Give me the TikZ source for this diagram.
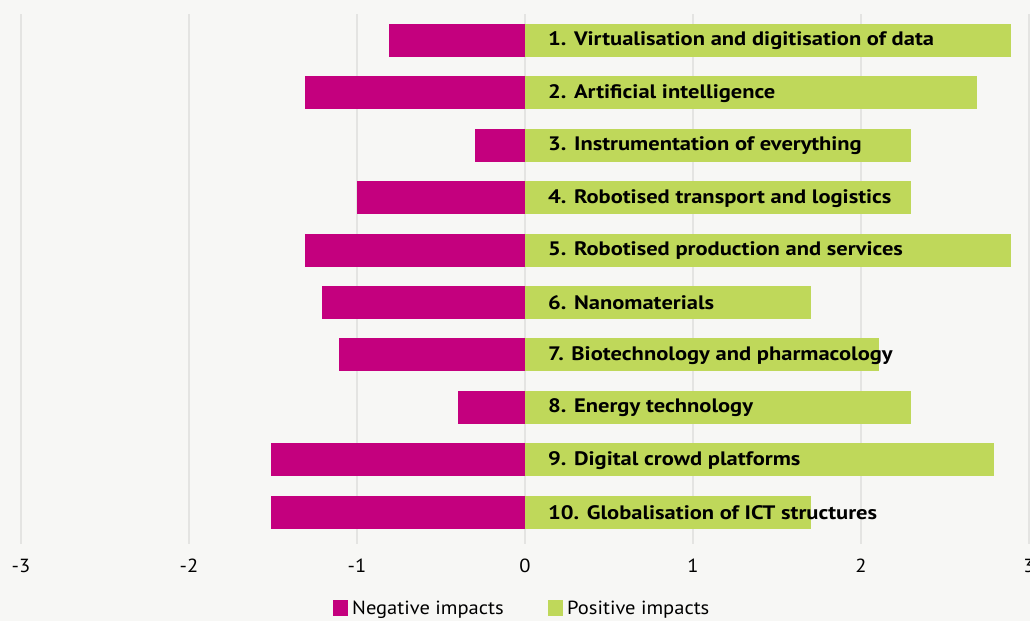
\documentclass[tikz,border=0pt]{standalone}
\usepackage{fontspec}
\setmainfont{PT Sans}[FakeStretch=1.08]
\newfontfamily\barfont{PT Sans}[FakeStretch=1.155]
\definecolor{bgc}{HTML}{F7F7F5}
\definecolor{gridc}{HTML}{E4E4E2}
\definecolor{negc}{HTML}{C4007E}
\definecolor{posc}{HTML}{BFD85A}
\begin{document}
\begin{tikzpicture}[x=1pt,y=-1pt,
  gridline/.style={gridc,line width=1.5pt},
  negbar/.style={fill=negc,draw=none},
  posbar/.style={fill=posc,draw=none},
  barlabel/.style={anchor=west,inner sep=0pt,font=\barfont\fontsize{19.5}{19.5}\selectfont\bfseries,text=black},
  ticklabel/.style={anchor=center,inner sep=0pt,font=\fontsize{19}{19}\selectfont},
  legendtext/.style={anchor=west,inner sep=0pt,font=\fontsize{19}{19}\selectfont}]
\fill[bgc] (0,0) rectangle (1030,621);
\useasboundingbox (0,0) rectangle (1030,621);
% unit: 168 px per 1, zero at 525
\foreach \v in {-3,...,3}{
  \draw[gridline] ({525+168*\v},14) -- ({525+168*\v},544);
}
\foreach \v/\t in {-3/-3,-2/-2,-1/-1,0/0,1/1,2/2,3/3}{
  \node[ticklabel] (tick\v) at ({525+168*\v},566) {\t};
}
\foreach \i/\n/\p/\lab in {
  1/-0.81/2.89/{1. Virtualisation and digitisation of data},
  2/-1.31/2.69/{2. Artificial intelligence},
  3/-0.30/2.30/{3. Instrumentation of everything},
  4/-1.00/2.30/{4. Robotised transport and logistics},
  5/-1.31/2.89/{5. Robotised production and services},
  6/-1.21/1.70/{6. Nanomaterials},
  7/-1.11/2.11/{7. Biotechnology and pharmacology},
  8/-0.40/2.30/{8. Energy technology},
  9/-1.51/2.79/{9. Digital crowd platforms},
  10/-1.51/1.70/{10. Globalisation of ICT structures}}{
  \pgfmathsetmacro{\yc}{40.5+52.4*(\i-1)}
  \fill[negbar] ({525+168*\n},\yc-16.5) rectangle (525,\yc+16.5);
  \fill[posbar] (525,\yc-16.5) rectangle ({525+168*\p},\yc+16.5);
  \node[barlabel] (lab\i) at (548,\yc+0.5) {\lab};
}
\fill[negc] (333,600) rectangle (348,616);
\node[legendtext] (legneg) at (352,609.5) {Negative impacts};
\fill[posc] (548,600) rectangle (563,616);
\node[legendtext] (legpos) at (567,609.5) {Positive impacts};
\end{tikzpicture}
\end{document}
